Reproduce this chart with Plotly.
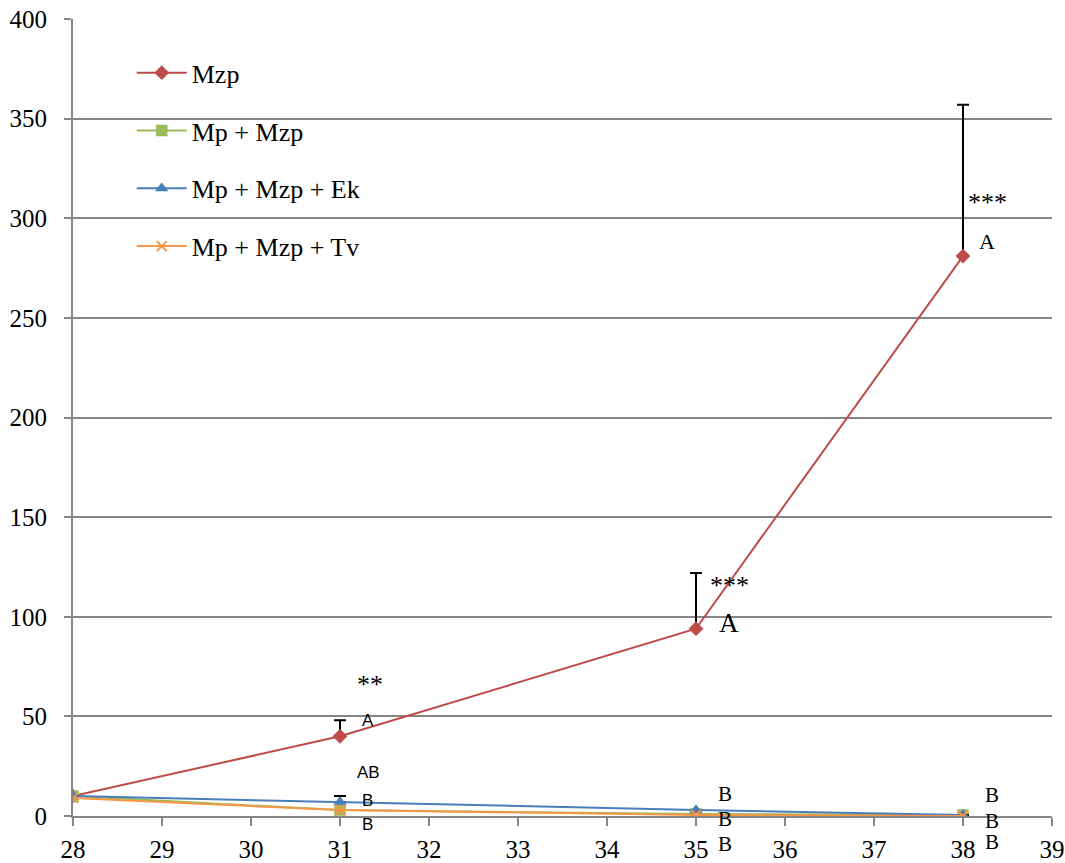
import plotly.graph_objects as go

days = [28, 31, 35, 38]
mzp = [10, 40, 94, 281]
mzp_err = [0, 8, 28, 76]
mp_mzp = [10, 3, 1, 0.5]
mp_mzp_ek = [10, 7, 3, 0.5]
mp_mzp_ek_err = [0, 3, 0, 0]
mp_mzp_tv = [9, 3, 0.5, 0]

series_names = ["Mzp", "Mp + Mzp", "Mp + Mzp + Ek", "Mp + Mzp + Tv"]
colors = ["#BE4B48", "#9BBB59", "#4A7EBB", "#F79646"]
symbols = ["diamond", "square", "triangle-up", "x-thin"]

Y_MAX = 400

# annotation labels
ann_x = [31.17, 31.23, 31.17, 31.23, 31.23, 35.14, 35.24, 35.22, 35.22, 35.22, 38.03, 38.16, 38.22, 38.22, 38.22]
ann_y = [66, 48, 22, 8, -4.5, 115.5, 97, 11, -1.5, -14, 308, 288.5, 10.5, -2.5, -13]
ann_text = ["**", "A", "AB", "B", "B", "***", "A", "B", "B", "B", "***", "A", "B", "B", "B"]
SERIF = "Liberation Serif"
SANS = "Liberation Sans"
ann_font = [SERIF, SANS, SANS, SANS, SANS, SERIF, SERIF, SERIF, SERIF, SERIF, SERIF, SERIF, SERIF, SERIF, SERIF]
ann_size = [26, 17, 17, 17, 17, 26, 27, 21, 21, 21, 26, 22, 21, 21, 21]

fig = go.Figure()
data = [mzp, mp_mzp, mp_mzp_ek, mp_mzp_tv]
errs = [mzp_err, None, mp_mzp_ek_err, None]
for i, (name, ys) in enumerate(zip(series_names, data)):
    err = None
    if errs[i] is not None:
        err = dict(type="data", array=errs[i], arrayminus=[0] * len(errs[i]), symmetric=False,
                   color="black", thickness=2, width=6)
    fig.add_trace(go.Scatter(
        x=days, y=ys, name=name, mode="lines+markers",
        line=dict(color=colors[i], width=2),
        marker=dict(symbol=symbols[i], size=11 if i != 3 else 10, color=colors[i],
                    line=dict(color=colors[i], width=2 if i == 3 else 0.5)),
        error_y=err, legendgroup=name,
    ))

# y positions given in paper units so labels below the axis stay visible
for x, y, t, f, s in zip(ann_x, ann_y, ann_text, ann_font, ann_size):
    fig.add_annotation(x=x, y=y / Y_MAX, xref="x", yref="paper", text=t, showarrow=False,
                       xanchor="left", yanchor="middle",
                       font=dict(family=f, size=s, color="black"))

fig.update_layout(
    width=1065, height=863,
    margin=dict(l=73, r=13, t=19, b=47, autoexpand=False),
    paper_bgcolor="white", plot_bgcolor="white",
    font=dict(family=SERIF, size=25, color="black"),
    showlegend=True,
    legend=dict(x=0.06, y=0.962, xanchor="left", yanchor="top", bgcolor="rgba(0,0,0,0)",
                font=dict(size=26, family=SERIF, color="black"), tracegroupgap=21, itemwidth=50),
    xaxis=dict(range=[28, 39], tickmode="linear", tick0=28, dtick=1, showgrid=False,
               showline=True, linecolor="#868686", linewidth=2, ticks="outside", tickcolor="#868686",
               ticklen=8, tickwidth=2, zeroline=False, ticklabelstandoff=2,
               tickfont=dict(size=25, family=SERIF, color="black")),
    yaxis=dict(range=[0, Y_MAX], tickmode="array", tickvals=[0, 50, 100, 150, 200, 250, 300, 350, 400],
               showgrid=True, ticklabelstandoff=12,
               gridcolor="#868686", gridwidth=1.5, showline=True, linecolor="#868686", linewidth=2,
               ticks="outside", tickcolor="#868686", ticklen=7, tickwidth=2, zeroline=False,
               tickfont=dict(size=25, family=SERIF, color="black")),
)

fig.write_html(
    "out.html",
    config={"displayModeBar": False},
    post_script="document.body.style.margin='0';document.body.style.overflow='hidden';"
                "document.documentElement.style.overflow='hidden';",
)
